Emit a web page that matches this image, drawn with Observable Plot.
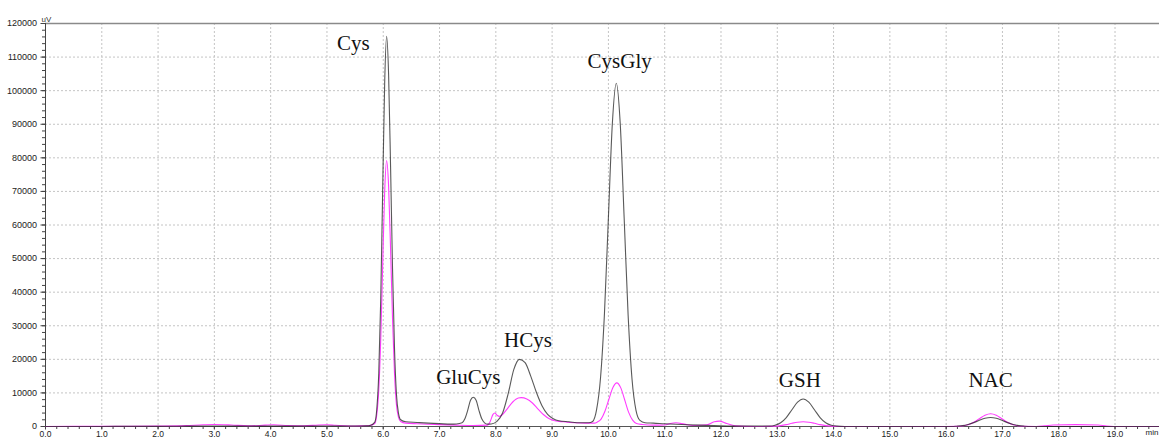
<!DOCTYPE html>
<html><head><meta charset="utf-8">
<script src="https://cdn.jsdelivr.net/npm/d3@7"></script>
<script src="https://cdn.jsdelivr.net/npm/@observablehq/plot@0.6"></script>
<style>body{margin:0;background:#fff;} #chart svg{display:block}</style>
</head><body><div id="chart"></div>
<script>
// Chromatogram traces: [time (min), signal (uV)]
const blackTrace = [
  [0,0],[0.5,0],[1,0],[1.5,50],[2,50],[2.5,100],[3,150],[3.5,100],[4,100],[4.5,100],[5,150],[5.5,150],
  [5.7,200],[5.78,400],[5.85,1300],[5.885,5100],[5.92,15700],[5.955,37700],[5.99,70400],[6.025,102000],
  [6.06,116200],[6.095,104900],[6.13,77500],[6.165,46900],[6.2,23200],[6.235,9500],[6.27,4000],[6.31,2000],
  [6.4,1400],[6.6,1200],[6.8,1000],[7.0,850],[7.2,700],[7.3,750],[7.4,1100],[7.45,2300],[7.5,4800],
  [7.55,7800],[7.6,8700],[7.65,7800],[7.7,4800],[7.75,2300],[7.8,1100],[7.85,700],[7.92,750],[8.02,1500],
  [8.12,4000],[8.22,9800],[8.32,17000],[8.42,20000],[8.52,19000],[8.62,15000],[8.72,10200],[8.82,6200],
  [8.92,3600],[9.02,2300],[9.12,1700],[9.3,1400],[9.5,1100],[9.65,1100],[9.72,1500],[9.79,5000],
  [9.86,14500],[9.93,33700],[10.0,62300],[10.07,90200],[10.14,102200],[10.21,90200],[10.28,62000],
  [10.35,33200],[10.42,14000],[10.49,4800],[10.56,1800],[10.65,1100],[10.8,1000],[11.0,800],[11.3,600],
  [11.6,400],[12.0,200],[12.4,100],[12.86,100],[12.96,360],[13.06,1110],[13.16,2660],[13.26,4980],
  [13.36,7230],[13.46,8200],[13.56,7230],[13.66,4980],[13.76,2660],[13.86,1110],[13.96,360],[14.06,100],
  [14.2,0],[14.6,0],[15.0,0],[15.5,0],[16.0,0],[16.09,0],[16.19,90],[16.29,250],[16.39,600],[16.49,1150],
  [16.59,1850],[16.69,2460],[16.79,2700],[16.89,2460],[16.99,1850],[17.09,1150],[17.19,600],[17.29,250],
  [17.39,90],[17.5,0],[18.0,0],[18.5,0],[19.0,0],[19.79,0]
];
const magentaTrace = [
  [0,0],[0.5,50],[1,50],[1.5,50],[2,100],[2.5,250],[2.8,500],[3.0,600],[3.3,450],[3.6,200],[3.9,400],
  [4.05,500],[4.3,300],[4.6,200],[4.85,450],[5.0,500],[5.15,350],[5.4,150],[5.6,200],[5.75,300],[5.85,900],
  [5.885,3500],[5.92,10700],[5.955,25700],[5.99,48100],[6.025,69700],[6.06,79200],[6.095,71600],
  [6.13,52900],[6.165,32000],[6.2,15800],[6.235,6400],[6.27,2800],[6.31,1500],[6.4,1000],[6.6,800],
  [6.8,650],[7.0,550],[7.3,400],[7.6,300],[7.85,400],[7.9,1500],[7.95,3600],[7.98,4000],[8.02,3400],
  [8.06,3000],[8.1,3300],[8.2,5200],[8.3,7300],[8.4,8500],[8.45,8600],[8.55,8200],[8.65,7000],[8.75,5200],
  [8.85,3500],[8.95,2300],[9.05,1700],[9.2,1400],[9.4,1100],[9.6,1000],[9.75,1000],[9.8,1300],[9.87,2200],
  [9.94,4600],[10.01,8200],[10.08,11600],[10.15,13000],[10.22,11500],[10.29,7900],[10.36,4200],[10.43,1900],
  [10.5,900],[10.6,600],[10.8,400],[11.0,450],[11.1,900],[11.2,1100],[11.35,700],[11.5,300],[11.75,500],
  [11.88,1400],[11.97,1600],[12.1,900],[12.25,200],[12.6,0],[12.96,100],[13.06,270],[13.16,560],[13.26,950],
  [13.36,1270],[13.46,1400],[13.56,1270],[13.66,950],[13.76,560],[13.86,270],[13.96,100],[14.1,0],[15,0],
  [16.0,0],[16.19,40],[16.29,170],[16.39,510],[16.49,1240],[16.59,2300],[16.69,3350],[16.79,3800],
  [16.89,3350],[16.99,2300],[17.09,1240],[17.19,510],[17.29,170],[17.39,40],[17.6,0],[17.75,200],[17.9,450],
  [18.3,550],[18.7,450],[18.85,150],[19.1,0],[19.79,0]
];
// Peak annotations
const peakNames = ["Cys", "GluCys", "HCys", "CysGly", "GSH", "NAC"];
const peakLabelTimes = [5.47, 7.51, 8.57, 10.2, 13.4, 16.79];
const peakLabelLevels = [114000, 14600, 25800, 108700, 13850, 13850];
// Ticks
const xTickValues = [0,1,2,3,4,5,6,7,8,9,10,11,12,13,14,15,16,17,18,19];
const xMinorTicks = d3.range(0, 99).map(i => i * 0.2);
const yTickValues = [0,10000,20000,30000,40000,50000,60000,70000,80000,90000,100000,110000,120000];
const yMinorTicks = d3.range(0, 61).map(i => i * 2000);

const blackRows = blackTrace.map(([t, v]) => ({t, v}));
const magentaRows = magentaTrace.map(([t, v]) => ({t, v}));
const labelRows = peakNames.map((name, i) => ({name, t: peakLabelTimes[i], v: peakLabelLevels[i]}));

const gridStyle = {stroke: "#c4c4c4", strokeOpacity: 1, strokeDasharray: "2,2"};

const chart = Plot.plot({
  width: 1159, height: 440,
  marginLeft: 45, marginRight: 0, marginTop: 23, marginBottom: 14,
  style: {fontFamily: "'Liberation Sans', Arial, sans-serif", fontSize: "9px", color: "#222", background: "#fff"},
  x: {domain: [0, 19.79], label: null},
  y: {domain: [0, 120000], label: null},
  marks: [
    Plot.gridX(xTickValues.filter(d => d > 0), gridStyle),
    Plot.gridY(yTickValues.filter(d => d > 0 && d < 120000), gridStyle),
    Plot.ruleY([120000], {stroke: "#8a8a8a", strokeWidth: 1.5}),
    Plot.axisX(xMinorTicks, {tickSize: 3, tickFormat: () => "", stroke: "#444"}),
    Plot.axisX(xTickValues, {tickSize: 3.5, tickPadding: 0.5, tickFormat: d => d.toFixed(1), stroke: "#444", fill: "#222", fontSize: 8.5}),
    Plot.axisY(yMinorTicks, {tickSize: 3, tickFormat: () => "", stroke: "#444"}),
    Plot.axisY(yTickValues, {tickSize: 4.5, tickPadding: 4, tickFormat: d3.format("d"), stroke: "#444", fill: "#222"}),
    Plot.ruleX([0], {stroke: "#444"}),
    Plot.ruleY([0], {stroke: "#555"}),
    Plot.line(magentaRows, {x: "t", y: "v", stroke: "#ff3cff", strokeWidth: 1.1, curve: "monotone-x"}),
    Plot.line(blackRows, {x: "t", y: "v", stroke: "#222", strokeOpacity: 0.75, strokeWidth: 1.1, curve: "monotone-x"}),
    Plot.text(labelRows, {x: "t", y: "v", text: "name", fontFamily: "'Liberation Serif', 'Times New Roman', serif", fontSize: 21, fill: "#111"}),
    Plot.text(["uV"], {frameAnchor: "top-left", text: d => d, dx: -4, dy: -7, textAnchor: "start", fontSize: 8, fill: "#333"}),
    Plot.text(["min"], {frameAnchor: "bottom-right", text: d => d, dx: -1, dy: 8, textAnchor: "end", fontSize: 8, fill: "#222"})
  ]
});
document.getElementById("chart").appendChild(chart);
</script>
</body></html>
